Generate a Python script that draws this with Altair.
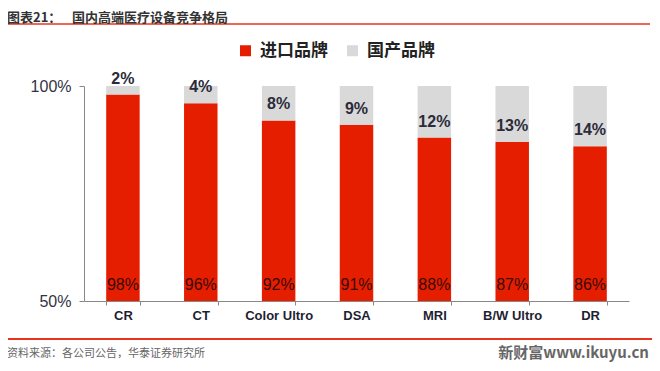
import altair as alt
import pandas as pd

categories = ["CR", "CT", "Color Ultro", "DSA", "MRI", "B/W Ultro", "DR"]
imported = [98, 96, 92, 91, 88, 87, 86]
domestic = [2, 4, 8, 9, 12, 13, 14]
brands = ["进口品牌", "国产品牌"]
colors = ["#E61E00", "#D9D9D9"]
y_ticks = [50, 100]

rows = []
for c, i, d in zip(categories, imported, domestic):
    rows.append({"cat": c, "brand": brands[0], "start": 0, "end": i})
    rows.append({"cat": c, "brand": brands[1], "start": i, "end": i + d})
bars_df = pd.DataFrame(rows)

lab_df = pd.DataFrame({
    "cat": categories,
    "imp": imported,
    "imp_label": [f"{v}%" for v in imported],
    "dom_label": [f"{v}%" for v in domestic],
})

W, H = 545, 215

x_enc = alt.X(
    "cat:N", sort=categories, title=None,
    scale=alt.Scale(paddingInner=0.57, paddingOuter=0.285),
    axis=alt.Axis(labelAngle=0, labelFont="Liberation Sans", labelFontSize=13,
                  labelFontWeight="bold", labelColor="#1f1f33", labelPadding=4,
                  tickBand="extent", tickSize=4, tickColor="#888888",
                  domainColor="#888888", domainWidth=1),
)
y_scale = alt.Scale(domain=[50, 100], nice=False, zero=False)

bars = alt.Chart(bars_df).mark_bar(clip=True).encode(
    x=x_enc,
    y=alt.Y("start:Q", scale=y_scale, title=None,
            axis=alt.Axis(values=y_ticks, labelExpr="datum.value + '%'",
                          labelFont="Liberation Sans", labelFontSize=16,
                          labelColor="#333344", labelPadding=8, tickSize=5,
                          tickColor="#888888", domainColor="#888888", grid=False)),
    y2="end:Q",
    color=alt.Color("brand:N", scale=alt.Scale(domain=brands, range=colors),
                    legend=alt.Legend(title=None, orient="none", direction="horizontal",
                                      legendX=153, legendY=-44, symbolType="square",
                                      symbolSize=121, symbolStrokeWidth=0,
                                      labelFont="Noto Sans CJK SC", labelFontSize=17,
                                      labelFontWeight="bold", labelColor="#222222",
                                      labelOffset=6, columnPadding=16)),
)

top_labels = alt.Chart(lab_df).mark_text(
    baseline="middle", dy=-16, font="Liberation Sans", fontSize=16,
    fontWeight="bold", color="#2b2b3a"
).encode(x=alt.X("cat:N", sort=categories), y=alt.Y("imp:Q", scale=y_scale),
         text="dom_label:N")

bottom_labels = alt.Chart(lab_df).mark_text(
    baseline="middle", dy=-16, font="Liberation Sans", fontSize=16,
    color="#3a0a0a"
).encode(x=alt.X("cat:N", sort=categories), y=alt.datum(50), text="imp_label:N")

one = pd.DataFrame({"a": [0]})
top_rule = alt.Chart(one).mark_rule(color="#E8341C", strokeWidth=1.5).encode(
    x=alt.value(-77), x2=alt.value(566), y=alt.value(-62))
bot_rule = alt.Chart(one).mark_rule(color="#E8341C", strokeWidth=2).encode(
    x=alt.value(-79), x2=alt.value(571), y=alt.value(253))
title1 = alt.Chart(one).mark_text(align="left", baseline="middle", font="Noto Sans CJK SC",
                                  fontSize=13, fontWeight="bold", color="#333333").encode(
    x=alt.value(-77), y=alt.value(-68), text=alt.value("图表21："))
title2 = alt.Chart(one).mark_text(align="left", baseline="middle", font="Noto Sans CJK SC",
                                  fontSize=13, fontWeight="bold", color="#333333").encode(
    x=alt.value(-12), y=alt.value(-68), text=alt.value("国内高端医疗设备竞争格局"))
source = alt.Chart(one).mark_text(align="left", baseline="middle", font="Noto Sans CJK SC",
                                  fontSize=11, color="#666666").encode(
    x=alt.value(-77), y=alt.value(268), text=alt.value("资料来源：各公司公告，华泰证券研究所"))
mark = alt.Chart(one).mark_text(align="right", baseline="middle", font="Noto Sans CJK SC",
                                fontSize=15, fontWeight="bold", color="#666666").encode(
    x=alt.value(565), y=alt.value(267), text=alt.value("新财富www.ikuyu.cn"))

chart = alt.layer(bars, top_labels, bottom_labels, top_rule, bot_rule,
                  title1, title2, source, mark).properties(
    width=W, height=H, autosize="none",
    padding={"left": 76, "top": 78, "right": 23, "bottom": 62},
).configure_view(stroke=None)

chart.save("out.html", embed_options={"renderer": "svg", "actions": False})
